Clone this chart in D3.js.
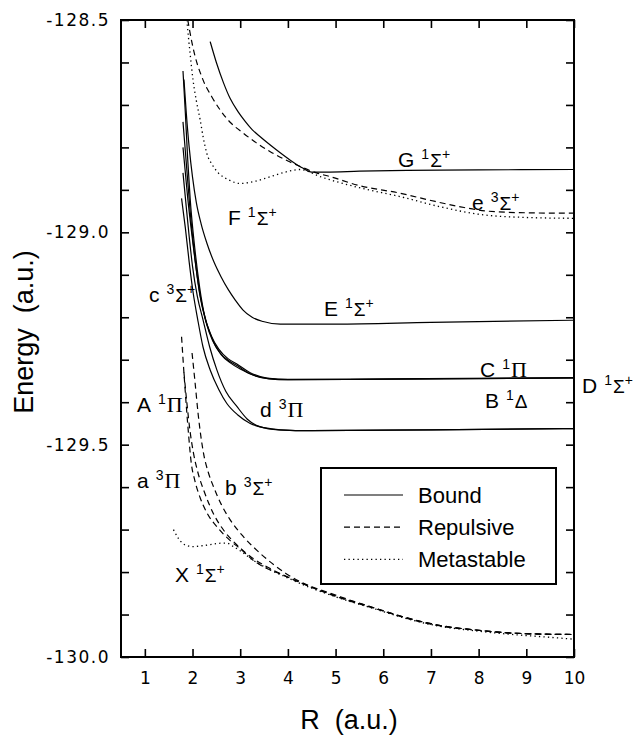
<!DOCTYPE html>
<html><head><meta charset="utf-8">
<script src="https://cdn.jsdelivr.net/npm/d3@7"></script>
<style>body{margin:0;background:#fff}</style>
</head><body><svg id="c" width="637" height="736"></svg>
<script>
// ---- tick values ----
const xTicks = [1,2,3,4,5,6,7,8,9,10];
const yTicks = [-128.5,-128.6,-128.7,-128.8,-128.9,-129.0,-129.1,-129.2,-129.3,-129.4,-129.5,-129.6,-129.7,-129.8,-129.9,-130.0];
const yTickLabels = ["-128.5","-129.0","-129.5","-130.0"];
const legendNames = ["Bound","Repulsive","Metastable"];

// ---- bound (solid) curves ----
const gR = [2.37,2.5,2.65,2.79,2.95,3.1,3.25,3.42,3.75,4.05,4.3,4.5,4.8,5.5,6.5,8,10];
const gE = [-128.551,-128.60,-128.648,-128.685,-128.715,-128.738,-128.758,-128.775,-128.805,-128.83,-128.848,-128.858,-128.858,-128.856,-128.854,-128.853,-128.852];
const eR = [1.82,1.87,1.93,2.0,2.08,2.18,2.3,2.45,2.6,2.75,2.9,3.06,3.25,3.48,3.84,5,7,10];
const eE = [-128.64,-128.72,-128.80,-128.87,-128.93,-128.98,-129.025,-129.07,-129.105,-129.135,-129.16,-129.183,-129.2,-129.21,-129.216,-129.216,-129.212,-129.207];
const cPiR = [1.8,1.85,1.9,1.95,2.05,2.15,2.26,2.4,2.55,2.75,2.93,3.2,3.56,4.0,6,10];
const cPiE = [-128.62,-128.72,-128.83,-128.92,-129.04,-129.13,-129.2,-129.245,-129.275,-129.298,-129.31,-129.33,-129.343,-129.346,-129.345,-129.342];
const bDeltaR = [1.8,1.85,1.9,1.95,2.05,2.15,2.28,2.42,2.57,2.77,2.95,3.2,3.56,4.0,6,10];
const bDeltaE = [-128.74,-128.81,-128.88,-128.95,-129.06,-129.145,-129.21,-129.255,-129.283,-129.303,-129.315,-129.333,-129.344,-129.347,-129.346,-129.343];
const dSigR = [1.8,1.85,1.9,1.97,2.07,2.17,2.3,2.45,2.6,2.8,3.0,3.3,3.6,4.0,6,10];
const dSigE = [-128.80,-128.86,-128.92,-128.99,-129.08,-129.155,-129.215,-129.26,-129.288,-129.308,-129.322,-129.337,-129.345,-129.347,-129.346,-129.343];
const dPiR = [1.8,1.86,1.93,2.0,2.1,2.22,2.36,2.51,2.7,2.93,3.15,3.42,3.8,4.5,7,10];
const dPiE = [-128.86,-128.93,-129.01,-129.08,-129.15,-129.206,-129.27,-129.324,-129.375,-129.41,-129.44,-129.458,-129.465,-129.467,-129.465,-129.462];
const cSigR = [1.77,1.85,1.93,2.01,2.11,2.22,2.37,2.55,2.72,2.95,3.21,3.5,3.84,4.5,7,10];
const cSigE = [-128.92,-128.99,-129.07,-129.14,-129.206,-129.27,-129.324,-129.37,-129.403,-129.43,-129.45,-129.46,-129.465,-129.467,-129.465,-129.462];

// ---- repulsive (dashed) curves ----
const eSigR = [1.9,2.0,2.22,2.4,2.58,2.8,3.06,3.35,3.63,4.0,4.26,4.6,4.89,5.5,6.36,7.0,7.62,8.18,9,10];
const eSigE = [-128.5,-128.56,-128.641,-128.68,-128.712,-128.742,-128.766,-128.79,-128.81,-128.832,-128.845,-128.86,-128.869,-128.89,-128.908,-128.925,-128.94,-128.95,-128.954,-128.955];
const aPiR = [1.77,1.84,1.92,1.97,2.05,2.16,2.3,2.54,2.79,3.0,3.27,3.98,5.1,5.8,6.5,7.2,7.9,8.6,9.3,10];
const aPiE = [-129.246,-129.363,-129.48,-129.54,-129.585,-129.625,-129.66,-129.697,-129.726,-129.745,-129.772,-129.811,-129.86,-129.884,-129.908,-129.926,-129.936,-129.943,-129.946,-129.947];
const a3PiR = [1.82,1.88,1.95,2.02,2.1,2.26,2.45,2.65,2.93,3.2,3.6,4.0,5.1,5.8,6.5,7.2,7.9,8.6,9.3,10];
const a3PiE = [-129.33,-129.40,-129.47,-129.52,-129.56,-129.615,-129.665,-129.701,-129.736,-129.762,-129.79,-129.812,-129.861,-129.885,-129.909,-129.927,-129.936,-129.943,-129.946,-129.947];
const bSigR = [1.99,2.05,2.12,2.23,2.33,2.44,2.6,2.79,3.07,3.42,3.98,5.1,5.8,6.5,7.2,7.9,8.6,9.3,10];
const bSigE = [-129.284,-129.35,-129.43,-129.52,-129.565,-129.599,-129.64,-129.677,-129.717,-129.756,-129.805,-129.858,-129.884,-129.908,-129.926,-129.936,-129.943,-129.946,-129.947];

// ---- metastable (dotted) curves ----
const fR = [1.88,1.95,2.01,2.08,2.16,2.23,2.3,2.42,2.54,2.75,3.0,3.3,3.63,3.95,4.26,4.68,5.5,6.36,7.2,8.04,9,10];
const fE = [-128.5,-128.58,-128.641,-128.69,-128.735,-128.78,-128.814,-128.842,-128.86,-128.876,-128.885,-128.88,-128.869,-128.858,-128.852,-128.869,-128.895,-128.916,-128.94,-128.958,-128.965,-128.967];
const xR = [1.6,1.7,1.8,1.9,2.02,2.2,2.4,2.6,2.72,2.86,3.0,3.27,3.6,3.98,4.5,5.1,5.8,6.5,7.2,7.9,8.6,9.3,10];
const xE = [-129.70,-129.72,-129.733,-129.738,-129.74,-129.738,-129.735,-129.732,-129.732,-129.74,-129.75,-129.772,-129.793,-129.813,-129.838,-129.862,-129.886,-129.91,-129.928,-129.938,-129.946,-129.952,-129.958];

const curves = [
  {R:gR,E:gE,t:0},{R:eR,E:eE,t:0},{R:cPiR,E:cPiE,t:0},{R:bDeltaR,E:bDeltaE,t:0},
  {R:dSigR,E:dSigE,t:0},{R:dPiR,E:dPiE,t:0},{R:cSigR,E:cSigE,t:0},
  {R:eSigR,E:eSigE,t:1},{R:aPiR,E:aPiE,t:1},{R:a3PiR,E:a3PiE,t:1},{R:bSigR,E:bSigE,t:1},
  {R:fR,E:fE,t:2},{R:xR,E:xE,t:2}
];
const dashes = [null,"6,4","1.3,3.2"];

const svg = d3.select("#c");
const L=121,Rr=574,T=20,B=657;
const x = d3.scaleLinear().domain([0.5,10]).range([L,Rr]);
const y = d3.scaleLinear().domain([-130,-128.5]).range([B,T]);

svg.append("clipPath").attr("id","clip").append("rect")
  .attr("x",L).attr("y",T).attr("width",Rr-L).attr("height",B-T);

const line = d3.line().x(d=>x(d[0])).y(d=>y(d[1])).curve(d3.curveMonotoneX);
const g = svg.append("g").attr("clip-path","url(#clip)");
curves.forEach(c=>{
  const pts = c.R.map((r,i)=>[r,c.E[i]]);
  g.append("path").attr("d",line(pts)).attr("fill","none").attr("stroke","#000")
    .attr("stroke-width",c.t===2?1.3:1.2)
    .attr("stroke-dasharray",dashes[c.t]);
});

// axes
const fmtY = d => { const s=d.toFixed(1); return yTickLabels.includes(s)?s:""; };
svg.append("g").attr("transform",`translate(0,${B})`)
  .call(d3.axisBottom(x).tickValues(xTicks).tickSize(-8).tickPadding(15).tickFormat(d=>String(d)));
svg.append("g").attr("transform",`translate(0,${T})`)
  .call(d3.axisTop(x).tickValues(xTicks).tickSize(-8).tickFormat(""));
const ay = svg.append("g").attr("transform",`translate(${L},0)`)
  .call(d3.axisLeft(y).tickValues(yTicks).tickSize(-8).tickPadding(11).tickFormat(fmtY));
svg.append("g").attr("transform",`translate(${Rr},0)`)
  .call(d3.axisRight(y).tickValues(yTicks).tickSize(-8).tickFormat(""));
svg.selectAll(".domain").remove();
svg.selectAll(".tick line").attr("stroke","#000").attr("stroke-width",1.6);
svg.selectAll(".tick text").attr("fill","#000").attr("font-family","'DejaVu Sans', sans-serif").attr("font-size",17);
ay.selectAll(".tick text").attr("letter-spacing",1.5);

svg.append("rect").attr("x",L).attr("y",T).attr("width",Rr-L).attr("height",B-T)
  .attr("fill","none").attr("stroke","#000").attr("stroke-width",2);

// axis titles
svg.append("text").attr("x",349).attr("y",729).attr("text-anchor","middle")
  .attr("font-family","'Liberation Sans', Arial, sans-serif").attr("font-size",27)
  .attr("xml:space","preserve").text("R  (a.u.)");
svg.append("text").attr("transform","translate(33,332) rotate(-90)").attr("text-anchor","middle")
  .attr("font-family","'Liberation Sans', Arial, sans-serif").attr("font-size",27)
  .attr("xml:space","preserve").text("Energy  (a.u.)");

// state labels
const labels = [
  ["G","1","Σ",true,398,167],["e","3","Σ",true,472,210],["F","1","Σ",true,228,225],
  ["E","1","Σ",true,324,316],["C","1","Π",false,480,377],["B","1","Δ",false,485,408],
  ["D","1","Σ",true,582,393],["c","3","Σ",true,149,302],["A","1","Π",false,137,412],
  ["d","3","Π",false,260,417],["a","3","Π",false,137,488],["b","3","Σ",true,225,495],
  ["X","1","Σ",true,175,582]
];
labels.forEach(([ch,sp,sym,plus,lx,ly])=>{
  const t = svg.append("text").attr("x",lx).attr("y",ly)
    .attr("font-family","'Liberation Sans', Arial, sans-serif").attr("font-size",21).attr("fill","#000");
  t.append("tspan").text(ch);
  t.append("tspan").attr("dx",7).attr("dy",-8).attr("font-size",14).text(sp);
  const s = t.append("tspan").attr("dy",8).attr("dx",1).text(sym);
  if(sym==="Π") s.attr("font-family","'Liberation Serif', serif").attr("font-size",22);
  else s.attr("font-size",19);
  if(plus) t.append("tspan").attr("dy",-8).attr("font-size",14).text("+");
});

// legend
const lg = svg.append("g");
lg.append("rect").attr("x",321).attr("y",468).attr("width",235).attr("height",116)
  .attr("fill","#fff").attr("stroke","#000").attr("stroke-width",2);
legendNames.forEach((n,i)=>{
  const cy = 495 + i*32.2;
  lg.append("line").attr("x1",344).attr("x2",403).attr("y1",cy).attr("y2",cy)
    .attr("stroke","#000").attr("stroke-width",1.2).attr("stroke-dasharray",dashes[i]);
  lg.append("text").attr("x",418).attr("y",cy+8).attr("font-family","'Liberation Sans', Arial, sans-serif")
    .attr("font-size",22).text(n);
});
</script></body></html>
